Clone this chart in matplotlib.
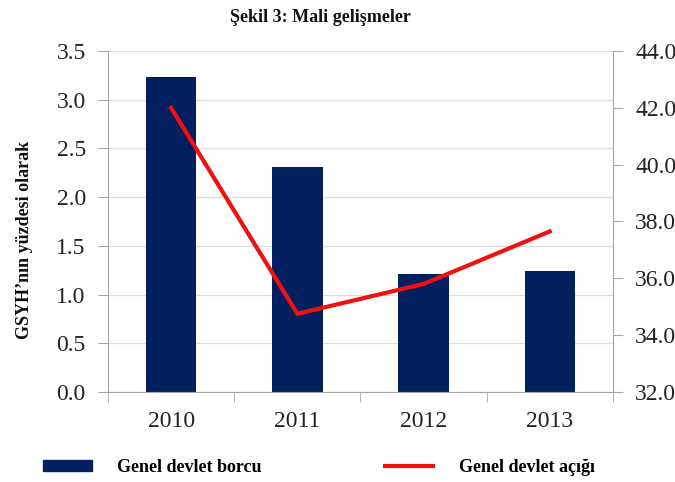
import matplotlib.pyplot as plt
from matplotlib.patches import Patch
from matplotlib.lines import Line2D

# data
years = ['2010', '2011', '2012', '2013']
borc = [3.23, 2.31, 1.21, 1.24]      # bars, left axis
acik = [42.0, 34.75, 35.8, 37.65]    # line, right axis
left_ticks = [0.0, 0.5, 1.0, 1.5, 2.0, 2.5, 3.0, 3.5]
right_ticks = [32.0, 34.0, 36.0, 38.0, 40.0, 42.0, 44.0]

plt.rcParams['font.family'] = ['Liberation Serif', 'DejaVu Serif']

fig = plt.figure(figsize=(6.75, 4.82), dpi=100)
ax = fig.add_axes([0.16, 0.187, 0.748, 0.707])

navy = '#021f5f'
red = '#f01010'
grey = '#a6a6a6'
txt = '#222222'

x = range(len(years))
ax.bar(x, borc, width=0.4, color=navy, zorder=2)
ax.set_xlim(-0.5, len(years) - 0.5)
ax.set_ylim(0, 3.5)
ax.set_yticks(left_ticks)
ax.set_yticklabels(['%.1f' % v for v in left_ticks])
ax.set_xticks(list(x))
ax.set_xticklabels(years)
ax.set_xticks([i - 0.5 for i in range(len(years) + 1)], minor=True)
ax.tick_params(axis='x', which='major', length=0, labelsize=17, pad=14, colors=txt)
ax.tick_params(axis='x', which='minor', length=7, color=grey)
ax.tick_params(axis='y', length=7, color=grey, labelsize=17, labelcolor=txt, pad=9)
ax.grid(axis='y', color='#dddddd', linewidth=0.9, zorder=0)
ax.set_axisbelow(True)
for s in ['top', 'right']:
    ax.spines[s].set_visible(False)
for s in ['left', 'bottom']:
    ax.spines[s].set_color(grey)

ax2 = ax.twinx()
ax2.plot(list(x), acik, color=red, linewidth=3, zorder=3)
ax2.set_ylim(32, 44)
ax2.set_yticks(right_ticks)
ax2.set_yticklabels(['%.1f' % v for v in right_ticks])
ax2.tick_params(axis='y', length=7, color=grey, labelsize=17, labelcolor=txt, pad=9)
for s in ['top', 'left', 'bottom']:
    ax2.spines[s].set_visible(False)
ax2.spines['right'].set_color(grey)

fig.text(0.474, 0.963, 'Şekil 3: Mali gelişmeler', ha='center', va='center',
         fontsize=13, fontweight='bold', color='#111111')
fig.text(0.037, 0.502, 'GSYH\u2019nın yüzdesi olarak', rotation=90, ha='center',
         va='center', fontsize=13, fontweight='bold', color='#111111')

handles = [Patch(facecolor=navy, edgecolor=navy),
           Line2D([0], [0], color=red, linewidth=3)]
labels = ['Genel devlet borcu', 'Genel devlet açığı']
fig.legend(handles, labels, loc='center left', bbox_to_anchor=(0.064, 0.03),
           ncol=2, frameon=False, prop={'weight': 'bold', 'size': 13},
           handlelength=2.7, handleheight=0.6, handletextpad=1.4,
           columnspacing=6.8, borderpad=0, borderaxespad=0)

plt.savefig('out.png', dpi=100)
